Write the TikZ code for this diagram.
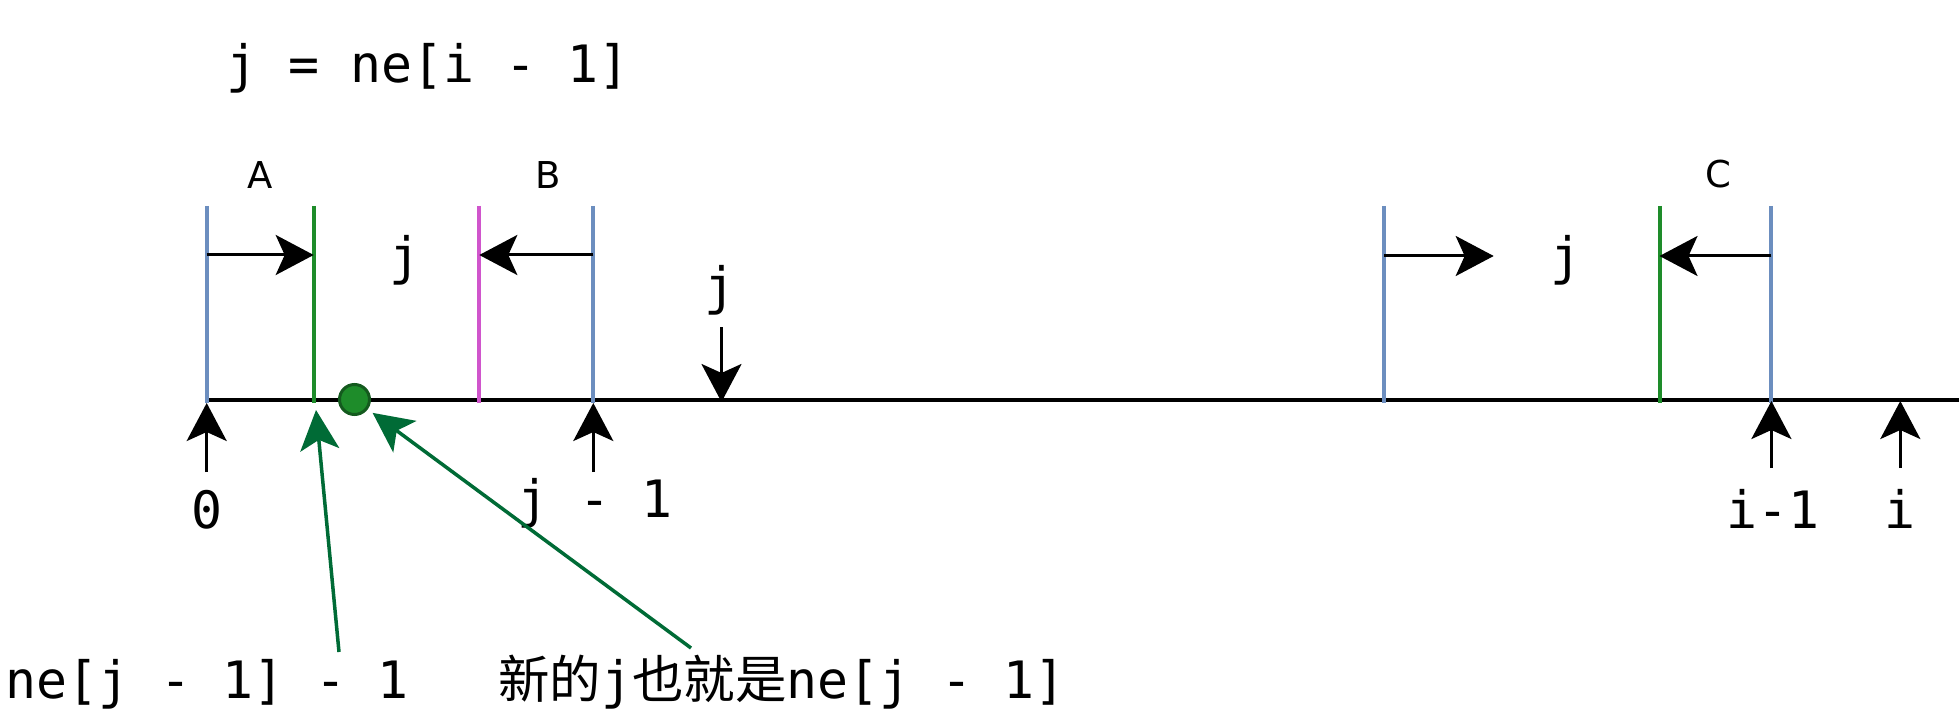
\documentclass[tikz,border=0pt]{standalone}
\usepackage{fontspec}
\setmainfont{DejaVu Sans}
\setmonofont{DejaVu Sans Mono}
\newfontfamily\cjkfont{Noto Sans CJK SC}
\newfontfamily\labfont{DejaVu Sans}
\usetikzlibrary{arrows.meta}
\definecolor{vblue}{HTML}{6C8EBF}
\definecolor{vgreen}{HTML}{1E8C2A}
\definecolor{vmag}{HTML}{D055CC}
\definecolor{dgreen}{HTML}{006B36}
\definecolor{cborder}{HTML}{145A1E}
\begin{document}
\begin{tikzpicture}[x=1pt,y=-1pt,
  mono/.style={font=\fontsize{51.5}{60}\selectfont\ttfamily, inner sep=0pt, anchor=base},
  letter/.style={font=\fontsize{37}{44}\selectfont\labfont, inner sep=0pt, anchor=base},
  tick/.style={line width=4pt},
  arr/.style={line width=3pt, -{Stealth[length=38pt,width=40pt,inset=9pt]}},
  garr/.style={line width=3.5pt, draw=dgreen, -{Stealth[length=40pt,width=39pt,inset=10pt]}}
]
\useasboundingbox (0,0) rectangle (1959,727);

% main axis
\coordinate (axL) at (206.7,400);
\coordinate (axR) at (1959,400);
\draw[line width=3.5pt] (axL) -- (axR);

% vertical markers
\coordinate (b1t) at (206.7,206);  \coordinate (b1b) at (206.7,403);
\coordinate (g1t) at (313.7,206);  \coordinate (g1b) at (313.7,403);
\coordinate (m1t) at (479.3,206);  \coordinate (m1b) at (479.3,403);
\coordinate (b2t) at (593.3,206);  \coordinate (b2b) at (593.3,403);
\coordinate (b3t) at (1384.2,206); \coordinate (b3b) at (1384.2,403);
\coordinate (g2t) at (1659.5,206); \coordinate (g2b) at (1659.5,403);
\coordinate (b4t) at (1771.4,206); \coordinate (b4b) at (1771.4,403);
\draw[tick, vblue] (b1t) -- (b1b);
\draw[tick, vgreen] (g1t) -- (g1b);
\draw[tick, vmag] (m1t) -- (m1b);
\draw[tick, vblue] (b2t) -- (b2b);
\draw[tick, vblue] (b3t) -- (b3b);
\draw[tick, vgreen] (g2t) -- (g2b);
\draw[tick, vblue] (b4t) -- (b4b);

% horizontal arrows
\coordinate (aS) at (206.7,255); \coordinate (aE) at (313.7,255);
\coordinate (bS) at (593.3,255); \coordinate (bE) at (479.3,255);
\coordinate (rS) at (1384.2,256); \coordinate (rE) at (1493.7,256);
\coordinate (cS) at (1771.4,256); \coordinate (cE) at (1659.5,256);
\draw[arr] (aS) -- (aE);
\draw[arr] (bS) -- (bE);
\draw[arr] (rS) -- (rE);
\draw[arr] (cS) -- (cE);

% labels above
\node[mono] (eq) at (428,83) {j = ne[i - 1]};
\node[letter] (lA) at (260,189) {A};
\node[letter] (lB) at (548,189) {B};
\node[letter] (lC) at (1718,188) {C};
\node[mono] (j1) at (405,275) {j};
\node[mono] (j2) at (1565.5,275) {j};
\node[mono] (j3) at (720,305) {j};

% down arrow j
\coordinate (dS) at (721.5,327); \coordinate (dE) at (721.5,402);
\draw[arr] (dS) -- (dE);

% up arrows
\coordinate (u0S) at (206.7,472); \coordinate (u0E) at (206.7,403);
\coordinate (u1S) at (593.3,472); \coordinate (u1E) at (593.3,403);
\coordinate (u2S) at (1771.4,468); \coordinate (u2E) at (1771.4,401);
\coordinate (u3S) at (1900.3,468); \coordinate (u3E) at (1900.3,401);
\draw[arr] (u0S) -- (u0E);
\draw[arr] (u1S) -- (u1E);
\draw[arr] (u2S) -- (u2E);
\draw[arr] (u3S) -- (u3E);

% labels below
\node[mono] (l0) at (206.7,528) {0};
\node[mono] (lj1) at (595,517) {j - 1};
\node[mono] (li1) at (1773.3,528) {i-1};
\node[mono] (li) at (1900.3,528) {i};

% green dot
\node[circle, fill=vgreen, draw=cborder, line width=3pt, minimum size=30pt, inner sep=0pt] (dot) at (354.5,399.5) {};

% bottom labels
\node[mono] (ln1) at (207,698) {ne[j - 1] - 1};
\node[mono] (ln2) at (782,698) {{\cjkfont 新的}j{\cjkfont 也就是}ne[j - 1]};

% green arrows
\coordinate (gaS) at (339,652); \coordinate (gaE) at (316,410);
\coordinate (gbS) at (691,648);
\draw[garr] (gaS) -- (gaE);
\draw[garr, shorten >=6pt] (gbS) -- (dot);
\end{tikzpicture}
\end{document}
